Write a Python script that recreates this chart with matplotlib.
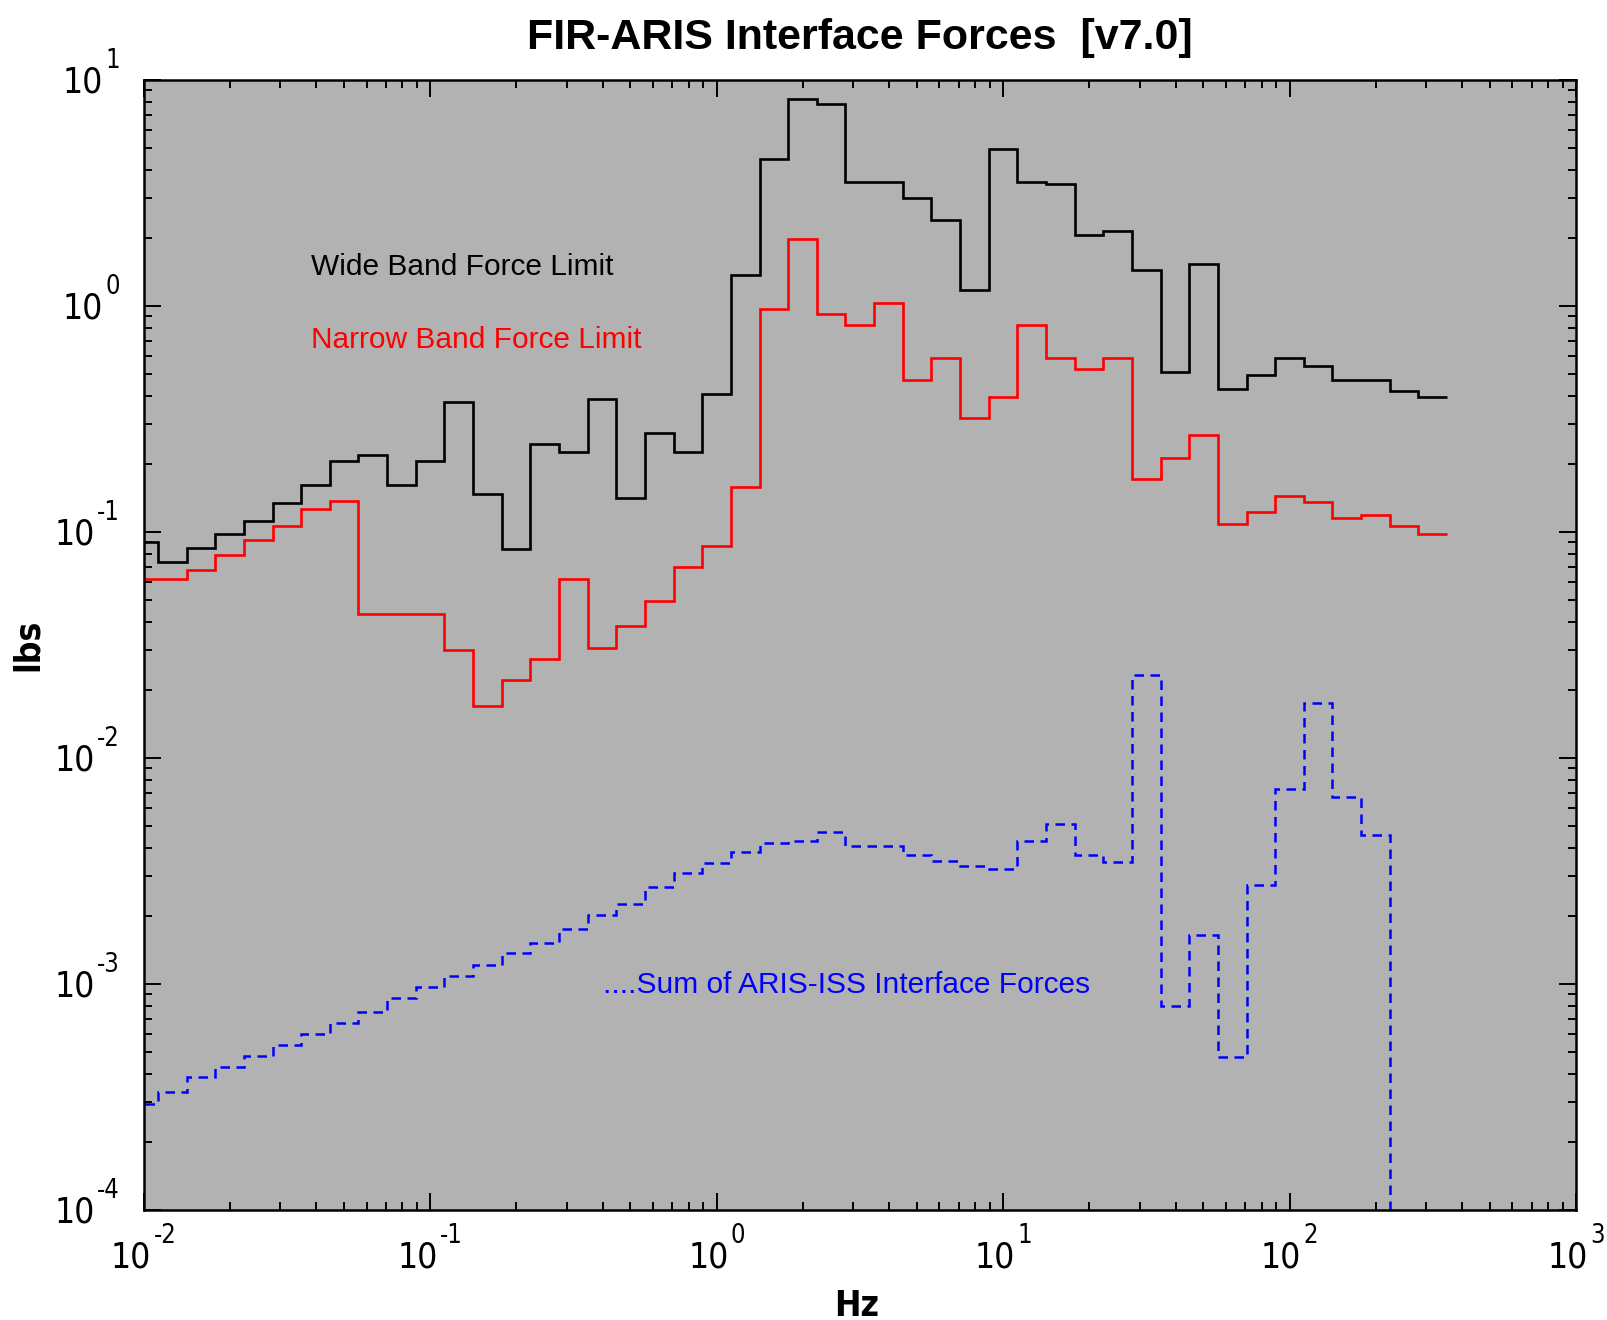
import numpy as np
import matplotlib
matplotlib.use("Agg")
import matplotlib.pyplot as plt
from matplotlib import font_manager
from matplotlib.font_manager import FontProperties
from matplotlib.ticker import LogLocator, NullFormatter

# ---------------- data (one-third octave bands, 0.01 Hz .. 316 Hz) ----------------
band_exp = np.arange(-20, 26) / 10.0          # log10 of band centre frequency
band_center_hz = 10.0 ** band_exp

wide_band_limit = [0.090, 0.0736, 0.085, 0.098, 0.112, 0.134, 0.162, 0.207, 0.220, 0.162,
                   0.207, 0.376, 0.148, 0.0844, 0.246, 0.226, 0.386, 0.141, 0.275, 0.226,
                   0.409, 1.37, 4.46, 8.28, 7.82, 3.54, 3.54, 3.02, 2.39, 1.18,
                   4.97, 3.54, 3.46, 2.07, 2.14, 1.44, 0.511, 1.53, 0.431, 0.497,
                   0.591, 0.542, 0.469, 0.469, 0.420, 0.396]

narrow_band_limit = [0.0622, 0.0622, 0.0678, 0.0794, 0.0919, 0.106, 0.127, 0.137, 0.0433, 0.0433,
                     0.0433, 0.030, 0.0170, 0.0221, 0.0275, 0.0622, 0.0307, 0.0384, 0.0495, 0.0697,
                     0.087, 0.158, 0.973, 1.97, 0.918, 0.828, 1.03, 0.469, 0.589, 0.318,
                     0.396, 0.828, 0.589, 0.525, 0.589, 0.171, 0.213, 0.268, 0.109, 0.122,
                     0.144, 0.136, 0.115, 0.119, 0.106, 0.0977]

# last two bands are below the plotted floor (effectively zero)
sum_iss_forces = [2.96e-4, 3.34e-4, 3.86e-4, 4.31e-4, 4.82e-4, 5.37e-4, 6.01e-4, 6.74e-4, 7.55e-4, 8.68e-4,
                  9.73e-4, 1.09e-3, 1.22e-3, 1.37e-3, 1.52e-3, 1.75e-3, 2.02e-3, 2.26e-3, 2.68e-3, 3.09e-3,
                  3.44e-3, 3.85e-3, 4.19e-3, 4.31e-3, 4.72e-3, 4.08e-3, 4.08e-3, 3.74e-3, 3.52e-3, 3.33e-3,
                  3.23e-3, 4.28e-3, 5.10e-3, 3.74e-3, 3.45e-3, 0.0233, 7.98e-4, 1.65e-3, 4.76e-4, 2.74e-3,
                  7.33e-3, 0.0176, 6.71e-3, 4.55e-3, 1e-7, 1e-7]

x_tick_exps = [-2, -1, 0, 1, 2, 3]
y_tick_exps = [-4, -3, -2, -1, 0, 1]

title_text = "FIR-ARIS Interface Forces  [v7.0]"
x_label = "Hz"
y_label = "lbs"
label_wide = "Wide Band Force Limit"
label_narrow = "Narrow Band Force Limit"
label_sum = "....Sum of ARIS-ISS Interface Forces"

# ---------------- fonts ----------------
ttf = font_manager.fontManager.ttflist
names = {f.name for f in ttf}
base_font = "Liberation Sans" if "Liberation Sans" in names else "DejaVu Sans"


def _is_cond(f):
    return (str(f.stretch) in ("condensed", "semi-condensed", "extra-condensed")
            or "Narrow" in f.name or "Condensed" in f.name)


def _wval(w):
    table = {"normal": 400, "regular": 400, "book": 400, "bold": 700, "medium": 500}
    try:
        return int(w)
    except (TypeError, ValueError):
        return table.get(str(w).lower(), 400)


pref = ["Liberation Sans Narrow", "Liberation Sans", "Arial Narrow", "DejaVu Sans",
        "Roboto Condensed", "Roboto", "Open Sans", "Noto Sans", "Lato", "Inter"]


def _find_cond(bold):
    cands = [f for f in ttf if _is_cond(f) and f.style == "normal"
             and ((_wval(f.weight) >= 600) == bold)]
    cands.sort(key=lambda f: (pref.index(f.name) if f.name in pref else 99,
                              abs(_wval(f.weight) - (700 if bold else 400))))
    return cands[0].fname if cands else None


cond_reg = _find_cond(False)
cond_bold = _find_cond(True)

tick_size = 25.5
if cond_reg:
    tick_fp = FontProperties(fname=cond_reg, size=tick_size)
else:
    tick_fp = FontProperties(family=base_font, size=tick_size - 1.5)
sup_fp = tick_fp.copy()
sup_fp.set_size(tick_fp.get_size() * 0.72)

if cond_bold:
    lab_fp = FontProperties(fname=cond_bold, size=25.5)
else:
    lab_fp = FontProperties(family=base_font, weight="bold", size=23)

plt.rcParams["font.family"] = [base_font, "DejaVu Sans"]

# ---------------- figure ----------------
fig = plt.figure(figsize=(16.08, 13.2), dpi=100)
ax = fig.add_axes([0.0893, 0.0833, 0.8908, 0.8561])
ax.set_facecolor("#b2b2b2")

edges = 10.0 ** np.append(band_exp - 0.05, band_exp[-1] + 0.05)

ax.stairs(wide_band_limit, edges, baseline=None, color="black", linewidth=1.9)
ax.stairs(narrow_band_limit, edges, baseline=None, color="#ff0000", linewidth=1.9)
ax.stairs(sum_iss_forces, edges, baseline=None, color="#0000ff", linewidth=1.8,
          linestyle=(0, (3.8, 2.6)))

ax.set_xscale("log")
ax.set_yscale("log")
ax.set_xlim(1e-2, 1e3)
ax.set_ylim(1e-4, 1e1)

for axis in (ax.xaxis, ax.yaxis):
    axis.set_major_locator(LogLocator(base=10, numticks=20))
    axis.set_minor_locator(LogLocator(base=10, subs=np.arange(2, 10), numticks=200))
    axis.set_major_formatter(NullFormatter())
    axis.set_minor_formatter(NullFormatter())

ax.tick_params(which="both", direction="in", top=True, right=True, width=1.4, color="black")
ax.tick_params(which="major", length=12)
ax.tick_params(which="minor", length=6)
for sp in ax.spines.values():
    sp.set_linewidth(1.8)

ax.set_title(title_text, fontsize=31, fontweight="bold", pad=22)

ax.set_xlabel(x_label, fontproperties=lab_fp)
ax.xaxis.set_label_coords(0.498, -0.0935)
ax.xaxis.label.set_va("baseline")
ax.set_ylabel(y_label, fontproperties=lab_fp)
ax.yaxis.set_label_coords(-0.081, 0.5)
ax.yaxis.label.set_va("center")

ax.text(0.0383, 1.377, label_wide, color="black", fontsize=21.5, ha="left", va="baseline")
ax.text(0.0383, 0.655, label_narrow, color="#ff0000", fontsize=21.5, ha="left", va="baseline")
ax.text(0.400, 9.09e-4, label_sum, color="#0000ff", fontsize=21.5, ha="left", va="baseline")

# ---------------- decade tick labels: "10" with a raised exponent ----------------
fig.canvas.draw()
renderer = fig.canvas.get_renderer()
px2pt = 72.0 / fig.dpi


def _width_pt(s, fp):
    t = fig.text(0, 0, s, fontproperties=fp)
    w = t.get_window_extent(renderer).width * px2pt
    t.remove()
    return w


gap = 1.5
w10 = _width_pt("10", tick_fp)
for e in x_tick_exps:
    s_exp = str(e)
    we = _width_pt(s_exp, sup_fp)
    total = w10 + gap + we
    right10 = -total / 2.0 + w10
    ax.annotate("10", xy=(10.0 ** e, 0), xycoords=ax.get_xaxis_transform(),
                xytext=(right10, -41.5), textcoords="offset points",
                ha="right", va="baseline", fontproperties=tick_fp, annotation_clip=False)
    ax.annotate(s_exp, xy=(10.0 ** e, 0), xycoords=ax.get_xaxis_transform(),
                xytext=(right10 + gap, -24.0), textcoords="offset points",
                ha="left", va="baseline", fontproperties=sup_fp, annotation_clip=False)

for e in y_tick_exps:
    s_exp = str(e)
    we = _width_pt(s_exp, sup_fp)
    ax.annotate(s_exp, xy=(0, 10.0 ** e), xycoords=ax.get_yaxis_transform(),
                xytext=(-17, 8.9), textcoords="offset points",
                ha="right", va="baseline", fontproperties=sup_fp, annotation_clip=False)
    ax.annotate("10", xy=(0, 10.0 ** e), xycoords=ax.get_yaxis_transform(),
                xytext=(-17 - we - gap, -8.9), textcoords="offset points",
                ha="right", va="baseline", fontproperties=tick_fp, annotation_clip=False)

fig.savefig("out.png", dpi=100, facecolor="white")
